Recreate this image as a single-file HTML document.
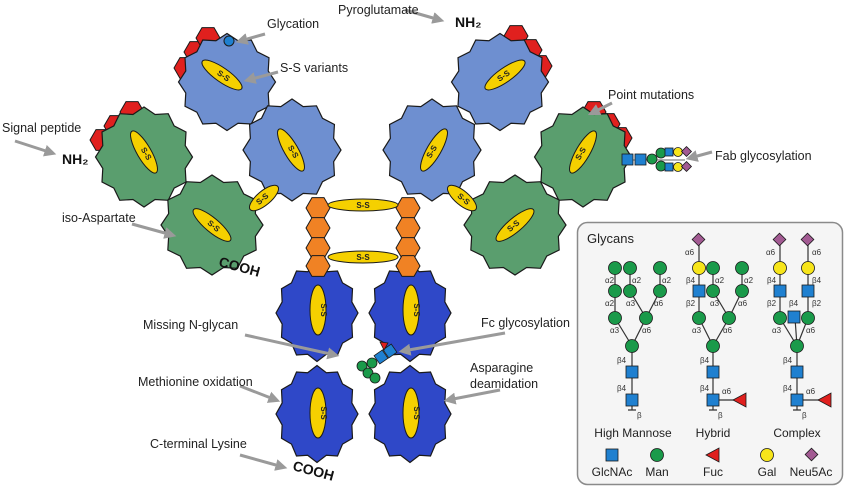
<!DOCTYPE html>
<html><head><meta charset="utf-8"><style>
html,body{margin:0;padding:0;background:#fff;}
svg{display:block;font-family:"Liberation Sans",Arial,sans-serif;}
</style></head><body>
<svg width="850" height="492" viewBox="0 0 850 492" xmlns="http://www.w3.org/2000/svg">
<defs>
<path id="blob" d="M50,0 L42.5,11.4 L43.3,25 L31.1,31.1 L25,43.3 L11.4,42.5 L0,50 L-11.4,42.5 L-25,43.3 L-31.1,31.1 L-43.3,25 L-42.5,11.4 L-50,0 L-42.5,-11.4 L-43.3,-25 L-31.1,-31.1 L-25,-43.3 L-11.4,-42.5 L0,-50 L11.4,-42.5 L25,-43.3 L31.1,-31.1 L43.3,-25 L42.5,-11.4 Z" stroke="#1a1a1a" stroke-width="1.2" vector-effect="non-scaling-stroke"/>
<polygon id="hex" points="12,0 6,10.4 -6,10.4 -12,0 -6,-10.4 6,-10.4" stroke="#1a1a1a" stroke-width="1"/>
<marker id="ah" markerWidth="4" markerHeight="4" refX="2.5" refY="2" orient="auto" markerUnits="strokeWidth"><path d="M0,0 L4,2 L0,4 Z" fill="#9a9a9a"/></marker>
</defs>

<!-- red caps -->
<g fill="#e0201e">
<use href="#hex" x="186" y="68"/><use href="#hex" x="196" y="52"/><use href="#hex" x="208" y="38"/>
<use href="#hex" x="102" y="140"/><use href="#hex" x="116" y="126"/><use href="#hex" x="132" y="112"/>
<use href="#hex" x="516" y="36"/><use href="#hex" x="530" y="50"/><use href="#hex" x="540" y="66"/>
<use href="#hex" x="594" y="112"/><use href="#hex" x="608" y="124"/><use href="#hex" x="620" y="138"/>
</g>

<!-- Fab domains -->
<g fill="#6e8fd0">
<use href="#blob" transform="translate(227,82) scale(0.97,0.97)"/>
<use href="#blob" transform="translate(292,150) scale(0.98,1.02)"/>
<use href="#blob" transform="translate(500,82) scale(0.97,0.97)"/>
<use href="#blob" transform="translate(432,150) scale(0.98,1.02)"/>
</g>
<g fill="#5a9e6e">
<use href="#blob" transform="translate(144,157) scale(0.97,1)"/>
<use href="#blob" transform="translate(212,225) scale(1.02,1)"/>
<use href="#blob" transform="translate(583,157) scale(0.97,1)"/>
<use href="#blob" transform="translate(515,225) scale(1.02,1)"/>
</g>

<!-- Fc domains -->
<g fill="#2f48c8">
<use href="#blob" transform="translate(317,313) scale(0.82,0.97)"/>
<use href="#blob" transform="translate(410,313) scale(0.82,0.97)"/>
<use href="#blob" transform="translate(317,414) scale(0.82,0.97)"/>
<use href="#blob" transform="translate(410,414) scale(0.82,0.97)"/>
</g>

<!-- hinge -->
<g fill="#f08224">
<use href="#hex" x="318" y="208"/><use href="#hex" x="318" y="228"/><use href="#hex" x="318" y="248"/><use href="#hex" x="318" y="266"/>
<use href="#hex" x="408" y="208"/><use href="#hex" x="408" y="228"/><use href="#hex" x="408" y="248"/><use href="#hex" x="408" y="266"/>
</g>

<!-- S-S ellipses -->
<g fill="#f5d000" stroke="#1a1a1a" stroke-width="1">
<ellipse cx="363" cy="205" rx="35" ry="6"/>
<ellipse cx="363" cy="257" rx="35" ry="6"/>
<ellipse cx="222" cy="75" rx="24" ry="7" transform="rotate(35 222 75)"/>
<ellipse cx="291" cy="150" rx="24" ry="7" transform="rotate(60 291 150)"/>
<ellipse cx="144" cy="152" rx="24" ry="7" transform="rotate(60 144 152)"/>
<ellipse cx="212" cy="225" rx="24" ry="7" transform="rotate(40 212 225)"/>
<ellipse cx="264" cy="198" rx="18" ry="7" transform="rotate(-40 264 198)"/>
<ellipse cx="505" cy="75" rx="24" ry="7" transform="rotate(-35 505 75)"/>
<ellipse cx="434" cy="150" rx="24" ry="7" transform="rotate(-60 434 150)"/>
<ellipse cx="583" cy="152" rx="24" ry="7" transform="rotate(-60 583 152)"/>
<ellipse cx="515" cy="225" rx="24" ry="7" transform="rotate(-40 515 225)"/>
<ellipse cx="462" cy="198" rx="18" ry="7" transform="rotate(40 462 198)"/>
<ellipse cx="318" cy="310" rx="8" ry="25"/>
<ellipse cx="411" cy="310" rx="8" ry="25"/>
<ellipse cx="318" cy="413" rx="8" ry="25"/>
<ellipse cx="411" cy="413" rx="8" ry="25"/>
</g>
<g font-size="8" font-weight="bold" fill="#222" text-anchor="middle">
<text x="363" y="208">S-S</text><text x="363" y="260">S-S</text>
<text transform="translate(222,78) rotate(35)">S-S</text>
<text transform="translate(291,153) rotate(60)">S-S</text>
<text transform="translate(144,155) rotate(60)">S-S</text>
<text transform="translate(212,228) rotate(40)">S-S</text>
<text transform="translate(264,201) rotate(-40)">S-S</text>
<text transform="translate(505,78) rotate(-35)">S-S</text>
<text transform="translate(434,153) rotate(-60)">S-S</text>
<text transform="translate(583,155) rotate(-60)">S-S</text>
<text transform="translate(515,228) rotate(-40)">S-S</text>
<text transform="translate(462,201) rotate(40)">S-S</text>
<text transform="translate(321,310) rotate(90)">S-S</text>
<text transform="translate(414,310) rotate(90)">S-S</text>
<text transform="translate(321,413) rotate(90)">S-S</text>
<text transform="translate(414,413) rotate(90)">S-S</text>
</g>

<!-- glycation dot -->
<circle cx="229" cy="41" r="5" fill="#1f80d0" stroke="#1a1a1a" stroke-width="1"/>

<!-- Fab glycan -->
<g stroke="#1a1a1a" stroke-width="0.8">
<line x1="622" y1="160" x2="685" y2="160" stroke="#333"/>
<rect x="622" y="154" width="11" height="11" fill="#1f80d0"/>
<rect x="635" y="154" width="11" height="11" fill="#1f80d0"/>
<circle cx="652" cy="159" r="5" fill="#1a9a4a"/>
<circle cx="661" cy="153" r="5" fill="#1a9a4a"/>
<circle cx="661" cy="166" r="5" fill="#1a9a4a"/>
<rect x="665" y="148" width="8" height="8" fill="#1f80d0"/>
<rect x="665" y="163" width="8" height="8" fill="#1f80d0"/>
<circle cx="678" cy="152" r="4.5" fill="#f7e51a"/>
<circle cx="678" cy="167" r="4.5" fill="#f7e51a"/>
<rect x="683" y="148" width="7" height="7" fill="#a25a92" transform="rotate(45 686.5 151.5)"/>
<rect x="683" y="163" width="7" height="7" fill="#a25a92" transform="rotate(45 686.5 166.5)"/>
</g>

<!-- Fc glycan -->
<g stroke="#1a1a1a" stroke-width="0.8">
<rect x="376" y="352" width="10" height="10" fill="#1f80d0" transform="rotate(-35 381 357)"/>
<rect x="385" y="346" width="10" height="10" fill="#1f80d0" transform="rotate(-35 390 351)"/>
<polygon points="380,342 388,343 384,350" fill="#e0201e"/>
<circle cx="372" cy="363" r="5" fill="#1a9a4a"/>
<circle cx="362" cy="366" r="5" fill="#1a9a4a"/>
<circle cx="368" cy="373" r="5" fill="#1a9a4a"/>
<circle cx="375" cy="378" r="5" fill="#1a9a4a"/>
</g>

<!-- arrows -->
<g stroke="#9a9a9a" stroke-width="3" fill="none" marker-end="url(#ah)">
<line x1="265" y1="34" x2="240" y2="41"/>
<line x1="405" y1="10" x2="440" y2="20"/>
<line x1="278" y1="72" x2="248" y2="80"/>
<line x1="15" y1="141" x2="52" y2="153"/>
<line x1="612" y1="103" x2="592" y2="113"/>
<line x1="712" y1="152" x2="690" y2="158"/>
<line x1="132" y1="224" x2="172" y2="235"/>
<line x1="245" y1="335" x2="335" y2="355"/>
<line x1="505" y1="333" x2="403" y2="351"/>
<line x1="240" y1="386" x2="276" y2="400"/>
<line x1="500" y1="390" x2="448" y2="400"/>
<line x1="240" y1="455" x2="283" y2="467"/>
</g>

<!-- labels -->
<g font-size="12.5" fill="#222">
<text x="267" y="28">Glycation</text>
<text x="338" y="14">Pyroglutamate</text>
<text x="280" y="72">S-S variants</text>
<text x="2" y="132">Signal peptide</text>
<text x="608" y="99">Point mutations</text>
<text x="715" y="160">Fab glycosylation</text>
<text x="62" y="222">iso-Aspartate</text>
<text x="143" y="329">Missing N-glycan</text>
<text x="481" y="327">Fc glycosylation</text>
<text x="138" y="386">Methionine oxidation</text>
<text x="470" y="372">Asparagine</text>
<text x="470" y="388">deamidation</text>
<text x="150" y="448">C-terminal Lysine</text>
</g>
<g font-size="14" font-weight="bold" fill="#111">
<text x="62" y="164">NH₂</text>
<text x="455" y="27">NH₂</text>
<text transform="translate(218,266) rotate(15)">COOH</text>
<text transform="translate(292,470) rotate(15)">COOH</text>
</g>

<!-- glycans box -->
<rect x="577.5" y="222.5" width="265" height="262" rx="10" fill="#f5f5f5" stroke="#8a8a8a" stroke-width="1.5"/>
<text x="587" y="243" font-size="13" fill="#222">Glycans</text>
<g stroke="#333" stroke-width="1.2" fill="none">
<path d="M632,410 L632,346 L615,318 M632,346 L646,318 L630,291 M646,318 L660,291 M615,318 L615,291 M630,291 L630,268 M660,291 L660,268 M615,291 L615,268"/>
<path d="M713,410 L713,346 L699,318 L699,291 L699,268 L699,240 M713,346 L729,318 L713,291 L713,268 M729,318 L742,291 L742,268 M713,400 L740,400"/>
<path d="M797,410 L797,346 L780,318 L780,240 M797,346 L808,318 L808,240 M797,346 L795,318 M797,400 L825,400"/>
<path d="M628,410 h8 M709,410 h8 M793,410 h8"/>
</g>
<g stroke="#1a1a1a" stroke-width="0.8">
<g fill="#1a9a4a">
<circle cx="615" cy="268" r="6.5"/><circle cx="630" cy="268" r="6.5"/><circle cx="660" cy="268" r="6.5"/>
<circle cx="615" cy="291" r="6.5"/><circle cx="630" cy="291" r="6.5"/><circle cx="660" cy="291" r="6.5"/>
<circle cx="615" cy="318" r="6.5"/><circle cx="646" cy="318" r="6.5"/><circle cx="632" cy="346" r="6.5"/>
<circle cx="713" cy="268" r="6.5"/><circle cx="742" cy="268" r="6.5"/>
<circle cx="713" cy="291" r="6.5"/><circle cx="742" cy="291" r="6.5"/>
<circle cx="699" cy="318" r="6.5"/><circle cx="729" cy="318" r="6.5"/><circle cx="713" cy="346" r="6.5"/>
<circle cx="780" cy="318" r="6.5"/><circle cx="808" cy="318" r="6.5"/><circle cx="797" cy="346" r="6.5"/>
<circle cx="657" cy="455" r="6.5"/>
</g>
<g fill="#1f80d0">
<rect x="626" y="366" width="12" height="12"/><rect x="626" y="394" width="12" height="12"/>
<rect x="707" y="366" width="12" height="12"/><rect x="707" y="394" width="12" height="12"/>
<rect x="693" y="285" width="12" height="12"/>
<rect x="791" y="366" width="12" height="12"/><rect x="791" y="394" width="12" height="12"/>
<rect x="774" y="285" width="12" height="12"/><rect x="802" y="285" width="12" height="12"/>
<rect x="788" y="311" width="12" height="12"/>
<rect x="606" y="449" width="12" height="12"/>
</g>
<g fill="#f7e51a">
<circle cx="699" cy="268" r="6.5"/><circle cx="780" cy="268" r="6.5"/><circle cx="808" cy="268" r="6.5"/>
<circle cx="767" cy="455" r="6.5"/>
</g>
<g fill="#a25a92">
<rect x="694" y="235" width="9" height="9" transform="rotate(45 698.5 239.5)"/>
<rect x="775" y="235" width="9" height="9" transform="rotate(45 779.5 239.5)"/>
<rect x="803" y="235" width="9" height="9" transform="rotate(45 807.5 239.5)"/>
<rect x="807" y="450" width="9" height="9" transform="rotate(45 811.5 454.5)"/>
</g>
<g fill="#e0201e">
<polygon points="733,400 746,393 746,407"/>
<polygon points="818,400 831,393 831,407"/>
<polygon points="706,455 719,448 719,462"/>
</g>
</g>
<g font-size="8" fill="#333">
<text x="605" y="283">α2</text><text x="632" y="283">α2</text><text x="662" y="283">α2</text>
<text x="605" y="306">α2</text><text x="626" y="306">α3</text><text x="654" y="306">α6</text>
<text x="610" y="333">α3</text><text x="642" y="333">α6</text>
<text x="617" y="363">β4</text><text x="617" y="391">β4</text><text x="637" y="418">β</text>
<text x="685" y="255">α6</text>
<text x="686" y="283">β4</text><text x="715" y="283">α2</text><text x="744" y="283">α2</text>
<text x="686" y="306">β2</text><text x="710" y="306">α3</text><text x="738" y="306">α6</text>
<text x="692" y="333">α3</text><text x="723" y="333">α6</text>
<text x="700" y="363">β4</text><text x="700" y="391">β4</text><text x="722" y="394">α6</text><text x="718" y="418">β</text>
<text x="766" y="255">α6</text><text x="812" y="255">α6</text>
<text x="767" y="283">β4</text><text x="812" y="283">β4</text>
<text x="767" y="306">β2</text><text x="789" y="306">β4</text><text x="812" y="306">β2</text>
<text x="772" y="333">α3</text><text x="806" y="333">α6</text>
<text x="783" y="363">β4</text><text x="783" y="391">β4</text><text x="806" y="394">α6</text><text x="802" y="418">β</text>
</g>
<g font-size="12" fill="#222" text-anchor="middle">
<text x="633" y="437">High Mannose</text>
<text x="713" y="437">Hybrid</text>
<text x="797" y="437">Complex</text>
<text x="612" y="476">GlcNAc</text>
<text x="657" y="476">Man</text>
<text x="713" y="476">Fuc</text>
<text x="767" y="476">Gal</text>
<text x="811" y="476">Neu5Ac</text>
</g>
</svg>
</body></html>
